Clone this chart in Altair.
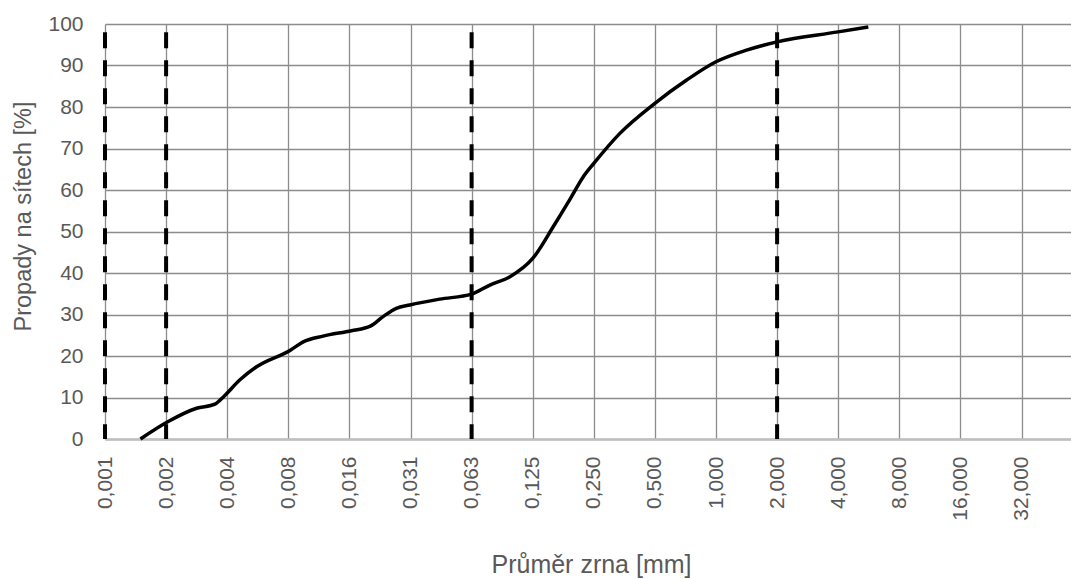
import altair as alt
import pandas as pd

# Grain-size curve (diameter in mm, % passing)
diameters = [0.00146, 0.002, 0.00276, 0.0034, 0.00375, 0.0045, 0.00545, 0.008,
             0.00925, 0.0116, 0.016, 0.0198, 0.0229, 0.0266, 0.031, 0.0435,
             0.0625, 0.0769, 0.0966, 0.125, 0.158, 0.19, 0.222, 0.25, 0.337, 0.5,
             0.717, 1.0, 1.414, 2.0, 4.0, 5.63]
passing = [0, 4.2, 7.4, 8.4, 10.2, 14.2, 17.4, 21.4,
           23.4, 24.8, 26.1, 27.2, 29.5, 31.5, 32.3, 33.7,
           34.9, 37.1, 39.1, 43.5, 51.2, 57.6, 63.2, 66.4, 73.7, 80.9,
           86.5, 90.9, 93.7, 95.7, 98.1, 99.3]

# Fraction boundaries (dashed verticals)
boundaries = [2 ** -10, 2 ** -9, 2 ** -4, 2 ** 1]
boundary_top = [98, 98, 98, 98]
boundary_bottom = [0, 0, 0, 0]

# Axis ticks
x_ticks = [2 ** k for k in range(-10, 6)]
y_ticks = list(range(0, 101, 10))

curve_df = pd.DataFrame({"d": diameters, "p": passing})
bound_df = pd.DataFrame({"d": boundaries, "top": boundary_top, "bottom": boundary_bottom})

FONT = "Liberation Sans"
TXT = "#595959"
GRID = "#8c8c8c"

x_scale = alt.Scale(type="log", base=2, domain=[2 ** -10, 2 ** 5.81], nice=False)
y_scale = alt.Scale(domain=[0, 100], nice=False, zero=False)

x_axis = alt.Axis(
    values=x_ticks,
    labelExpr="replace(format(datum.value, '.3f'), '.', ',')",
    labelAngle=270, labelFontSize=21, labelColor=TXT, labelFont=FONT,
    labelPadding=17, labelFlush=False, labelOverlap=False,
    ticks=False, grid=True, gridColor=GRID, gridWidth=1.3,
    domain=True, domainColor="#bfbfbf", domainWidth=2.5,
    title="Průměr zrna [mm]", titleFontSize=25, titleFontWeight="normal",
    titleColor=TXT, titleFont=FONT, titleX=486, titleY=133,
    titleBaseline="alphabetic",
)
y_axis = alt.Axis(
    values=y_ticks, labelFontSize=21, labelColor=TXT, labelFont=FONT,
    labelPadding=22, ticks=False, domain=False,
    grid=True, gridColor=GRID, gridWidth=1.3,
    title="Propady na sítech [%]", titleFontSize=23.5, titleFontWeight="normal",
    titleColor=TXT, titleFont=FONT, titleX=-82, titleY=192,
    titleBaseline="middle",
)

rules = alt.Chart(bound_df).mark_rule(
    color="black", strokeWidth=4, strokeDash=[16, 12], strokeCap="butt"
).encode(
    x=alt.X("d:Q", scale=x_scale, axis=x_axis),
    y=alt.Y("top:Q", scale=y_scale, axis=y_axis),
    y2="bottom:Q",
)

line = alt.Chart(curve_df).mark_line(
    color="black", strokeWidth=3.5, interpolate="monotone"
).encode(
    x=alt.X("d:Q", scale=x_scale),
    y=alt.Y("p:Q", scale=y_scale),
)

chart = alt.layer(rules, line).properties(
    width=966, height=415,
    autosize=alt.AutoSizeParams(type="none"),
    padding={"left": 105, "top": 24, "right": 0, "bottom": 140},
    background="white",
).configure_view(stroke=None)

chart.save("out.html", embed_options={"renderer": "svg", "actions": False})
